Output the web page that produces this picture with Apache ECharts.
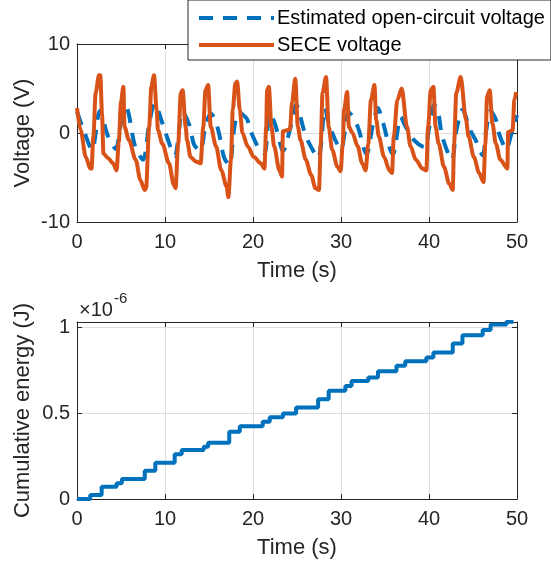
<!DOCTYPE html>
<html>
<head>
<meta charset="utf-8">
<script src="https://cdn.jsdelivr.net/npm/echarts@6/dist/echarts.min.js"></script>
<style>
html, body { margin: 0; padding: 0; background: #fff; }
#main { width: 551px; height: 571px; }
</style>
</head>
<body>
<div id="main"></div>
<script>
// estimated open-circuit voltage (blue dashed)
var ocTime = [0, 0.8, 1.7, 2.6, 3.5, 4.4, 5.0, 5.6, 6.6, 7.5, 8.2, 8.8, 10.0, 11.1, 12.0, 12.8, 13.3, 14.0, 14.6, 15.2,
  16.0, 16.7, 17.3, 17.9, 18.4, 19.3, 19.7, 20.7, 21.3, 21.9, 22.5, 23.2, 23.4, 24.2, 24.9, 25.8, 26.4, 27.4, 28.2, 28.6,
  29.4, 30.0, 30.9, 31.9, 32.9, 33.6, 34.2, 34.6, 35.9, 36.8, 37.3, 38.3, 39.5, 40.0, 40.6, 41.1, 41.5, 42.6, 43.1, 43.8,
  44.7, 45.3, 46.1, 46.5, 47.0, 47.6, 48.0, 48.8, 49.3, 50];
var ocVolt = [2.4, 0.2, -1.9, 2.5, -0.3, -1.8, 1.2, 2.8, -1.5, -3.0, 1.0, 3.3, 0.2, -2.6, 2.4, 0.8, -1.3, -2.0, 0.8, 2.2,
  0.5, -2.7, -3.6, 0.8, 2.3, 1.6, 0.3, -1.8, -2.3, 2.2, 1.0, -1.6, -2.0, 0.4, 3.2, 0.3, -1.2, -2.8, 2.8, 1.1,
  -0.9, -1.8, 2.3, 0.7, -2.4, 0.8, 2.8, 1.8, -2.4, 1.8, 0.8, -0.8, -1.6, 0.5, 3.2, 2.0, -0.4, -3.0, 0.2, 2.6,
  0.3, -0.8, -2.5, 0.3, 2.5, 1.5, -0.2, -1.8, -0.3, 2.0];

// SECE voltage (orange)
var seceTime = [0, 0.42, 1.0, 1.5, 1.65, 1.86, 2.12, 2.5, 2.65, 2.85, 3.0, 3.5, 4.1, 4.5, 4.75, 5.0, 5.27, 5.4, 5.9, 6.67,
  7.2, 7.7, 7.85, 8.2, 8.45, 8.75, 9.05, 9.2, 9.7, 10.45, 11.0, 11.2, 11.5, 11.8, 12.0, 12.35, 12.5, 12.9, 13.5, 14.05,
  14.35, 14.6, 14.9, 15.2, 15.8, 16.4, 17.0, 17.2, 17.5, 17.7, 18.0, 18.2, 18.5, 18.8, 19.4, 20.1, 20.9, 21.3, 21.5, 21.6,
  21.8, 22.1, 22.4, 23.0, 23.3, 23.4, 24.2, 24.45, 24.8, 25.1, 25.4, 26.0, 26.6, 27.1, 27.5, 27.7, 27.9, 28.3, 28.6, 29.0,
  29.6, 29.96, 30.2, 30.35, 30.7, 30.9, 31.3, 31.9, 32.4, 32.8, 33.1, 33.4, 33.8, 34.0, 34.3, 34.9, 35.5, 35.8, 36.0, 36.4,
  36.9, 37.5, 37.9, 38.5, 39.25, 39.7, 39.9, 40.2, 40.5, 40.75, 41.1, 41.7, 42.3, 42.7, 42.85, 43.1, 43.6, 44.2, 44.5, 45.1,
  45.7, 46.2, 46.4, 46.6, 46.9, 47.2, 47.6, 48.1, 48.9, 49.0, 49.5, 49.7, 49.9];
var seceVolt = [2.8, 0.3, -2.7, -4.0, -4.0, -0.4, 4.5, 6.5, 6.5, 2.0, -2.3, -2.8, -3.4, -4.2, -1.0, 3.5, 5.2, 0.7, -0.8, -3.0,
  -5.3, -6.4, -6.2, 0.7, 5.2, 6.5, 2.6, 0.3, -1.2, -3.4, -5.8, -6.2, -1.2, 4.5, 4.8, 0.7, -0.8, -2.7, -3.2, -3.4,
  0.7, 4.8, 5.4, 0.7, -1.5, -4.2, -6.0, -7.2, -3.0, 2.6, 5.6, 5.8, 2.6, 0, -1.5, -2.7, -3.4, -4.0, 0.7, 4.8,
  5.2, 0.7, -1.5, -4.2, -4.9, 0.2, 0.4, 3.5, 6.1, 0.7, -0.8, -3.0, -4.7, -6.2, -6.4, -1.2, 4.5, 6.3, 0.7, -1.9,
  -3.8, -4.3, -1.2, 2.6, 4.6, 0.7, 0, -1.5, -3.4, -4.2, -1.2, 3.7, 5.4, 1.5, -0.4, -2.7, -4.2, -4.5, -0.4, 3.7,
  5.0, 0.7, -1.5, -3.0, -4.0, -4.2, 0.7, 4.8, 5.2, 0.7, -1.2, -3.8, -5.7, -6.4, -1.2, 4.5, 6.3, 1.5, -0.4, -2.7,
  -4.5, -5.5, -1.2, 4.1, 4.8, 1.1, -1.2, -3.0, -4.0, 0.1, 0.3, 3.7, 4.6];

// cumulative energy, in units of 1e-6 J
var energyTime = [0, 1.5, 2.8, 4.5, 5.1, 7.7, 8.9, 11.1, 11.9, 14.4, 14.9, 17.3, 18.5, 21.1, 21.9, 23.4, 24.9, 27.4, 28.6, 30.5,
  31.2, 33.1, 34.2, 36.3, 37.3, 39.7, 40.5, 42.7, 43.8, 46.1, 47.0, 48.8, 49.6];
var energyVal = [0, 0.023, 0.072, 0.091, 0.116, 0.165, 0.211, 0.26, 0.285, 0.304, 0.327, 0.391, 0.424, 0.45, 0.475, 0.498, 0.533, 0.581, 0.63, 0.657,
  0.686, 0.707, 0.744, 0.775, 0.802, 0.824, 0.853, 0.905, 0.953, 0.983, 1.016, 1.031, 1.031];

var xTicks = ['0', '10', '20', '30', '40', '50'];

function pairs(xs, ys) {
  var out = [];
  for (var i = 0; i < xs.length; i++) out.push([xs[i], ys[i]]);
  return out;
}

var font = '"Liberation Sans", Arial, Helvetica, sans-serif';
var ink = '#262626';
var gridGray = '#dfdfdf';
var blue = '#0072BD';
var orange = '#D95319';

function timeAxis(gridIndex, mirror) {
  return {
    type: 'value', gridIndex: gridIndex, min: 0, max: 50, interval: 10,
    position: mirror ? 'top' : 'bottom',
    name: mirror ? '' : 'Time (s)',
    nameLocation: 'middle', nameGap: 38, nameMoveOverlap: false,
    nameTextStyle: { color: ink, fontSize: 22, fontFamily: font },
    axisLine: { show: true, onZero: false, lineStyle: { color: ink, width: 1 } },
    axisTick: { show: true, inside: true, length: 5, lineStyle: { color: ink } },
    axisLabel: {
      show: !mirror, color: ink, fontSize: 20, fontFamily: font, margin: 10,
      formatter: function (v) { return xTicks[Math.round(v / 10)] || ''; }
    },
    splitLine: { show: !mirror, lineStyle: { color: gridGray, width: 1 } }
  };
}

function valueAxis(gridIndex, mirror, opts) {
  return {
    type: 'value', gridIndex: gridIndex, min: opts.min, max: opts.max, interval: opts.interval,
    position: mirror ? 'right' : 'left',
    name: mirror ? '' : opts.name,
    nameLocation: 'middle', nameGap: 43, nameMoveOverlap: false,
    nameTextStyle: { color: ink, fontSize: 22, fontFamily: font },
    axisLine: { show: true, onZero: false, lineStyle: { color: ink, width: 1 } },
    axisTick: { show: true, inside: true, length: 5, lineStyle: { color: ink } },
    axisLabel: {
      show: !mirror, color: ink, fontSize: 20, fontFamily: font, margin: 7,
      formatter: opts.fmt
    },
    splitLine: { show: !mirror, lineStyle: { color: gridGray, width: 1 } }
  };
}

var chart = echarts.init(document.getElementById('main'), null, { renderer: 'canvas' });

var option = {
  animation: false,
  backgroundColor: '#ffffff',
  grid: [
    { left: 77, top: 44, width: 440, height: 178 },
    { left: 77, top: 322, width: 440, height: 177 }
  ],
  legend: {
    data: ['Estimated open-circuit voltage', 'SECE voltage'],
    orient: 'vertical',
    left: 188, top: 0,
    padding: [8, 6, 5, 9],
    itemGap: 7,
    itemWidth: 75, itemHeight: 20,
    backgroundColor: '#ffffff',
    borderColor: ink, borderWidth: 1,
    textStyle: { color: '#000', fontSize: 20, fontFamily: font, padding: [0, 0, 0, -2] },
    lineStyle: { width: 4 },
    itemStyle: { color: 'rgba(0,0,0,0)', borderWidth: 0, opacity: 0 },
    z: 10
  },
  graphic: [
    { type: 'text', left: 79, top: 300, style: { text: '\u00d710', fill: ink, fontSize: 20, fontFamily: font } },
    { type: 'text', left: 114, top: 291, style: { text: '-6', fill: ink, fontSize: 15, fontFamily: font } }
  ],
  xAxis: [timeAxis(0, false), timeAxis(0, true), timeAxis(1, false), timeAxis(1, true)],
  yAxis: [
    valueAxis(0, false, { min: -10, max: 10, interval: 10, name: 'Voltage (V)' }),
    valueAxis(0, true, { min: -10, max: 10, interval: 10 }),
    valueAxis(1, false, {
      min: 0, max: 1.03, interval: 0.5, name: 'Cumulative energy (J)',
      fmt: function (v) { return (Math.abs(v * 2 - Math.round(v * 2)) < 1e-6) ? String(v) : ''; }
    }),
    valueAxis(1, true, { min: 0, max: 1.03, interval: 0.5 })
  ],
  series: [
    {
      name: 'Estimated open-circuit voltage', type: 'line',
      xAxisIndex: 0, yAxisIndex: 0,
      data: pairs(ocTime, ocVolt),
      symbol: 'none', smooth: 0.3,
      lineStyle: { color: blue, width: 4, type: [14, 10] },
      itemStyle: { color: blue }
    },
    {
      name: 'SECE voltage', type: 'line',
      xAxisIndex: 0, yAxisIndex: 0,
      data: pairs(seceTime, seceVolt),
      symbol: 'none', smooth: 0.3, smoothMonotone: 'x',
      lineStyle: { color: orange, width: 4 },
      itemStyle: { color: orange }
    },
    {
      name: 'Cumulative energy', type: 'line',
      xAxisIndex: 2, yAxisIndex: 2,
      data: pairs(energyTime, energyVal),
      symbol: 'none', step: 'end',
      lineStyle: { color: blue, width: 4 },
      itemStyle: { color: blue }
    }
  ]
};

chart.setOption(option);
</script>
</body>
</html>
